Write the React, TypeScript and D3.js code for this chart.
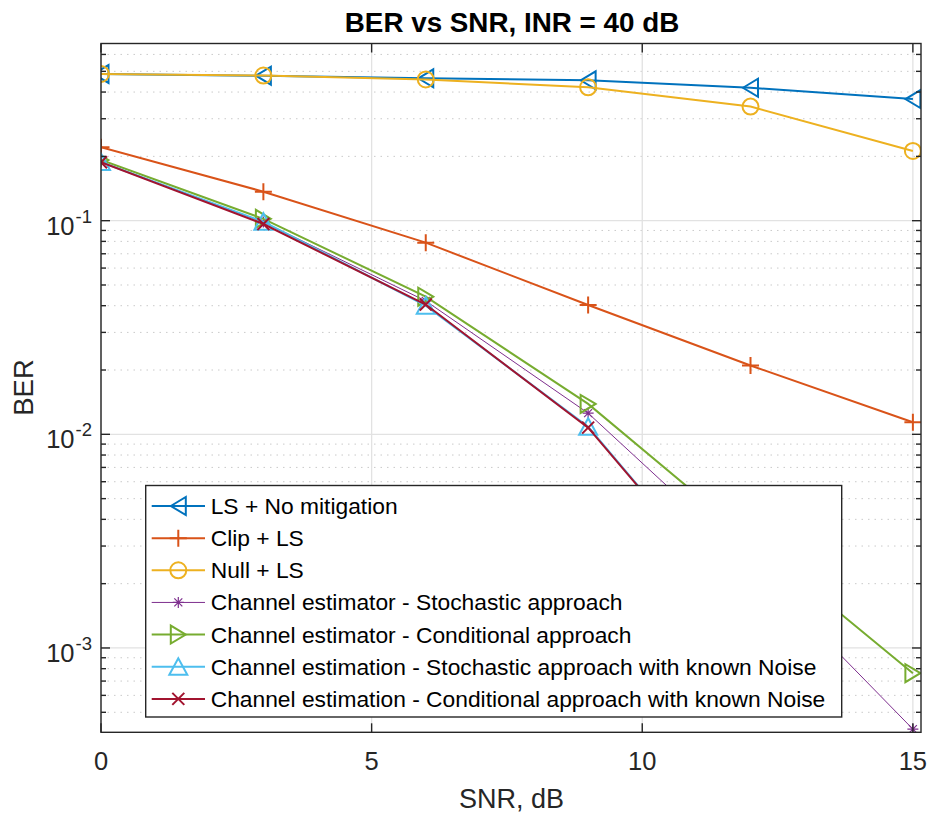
import React from "react";
import * as d3 from "d3";

// SNR sweep (dB)
const snrDb = [0, 3, 6, 9, 12, 15];

// BER for each receiver; null = no errors counted (not drawable on a log axis)
const lsNoMitigation = [0.486, 0.477, 0.464, 0.454, 0.419, 0.371];
const clipLs = [0.2206, 0.1367, 0.0789, 0.0403, 0.021, 0.01139];
const nullLs = [0.486, 0.478, 0.458, 0.421, 0.342, 0.212];
const estStochastic = [0.188, 0.0985, 0.0421, 0.01256, 0.0025, 0.000417];
const estConditional = [0.1923, 0.102, 0.0441, 0.01388, 0.00322, 0.000762];
const estStochasticKnown = [0.188, 0.0989, 0.04, 0.01086, 0.00137, null];
const estConditionalKnown = [0.1876, 0.0965, 0.0405, 0.01075, 0.00137, null];

const seriesNames = [
  "LS + No mitigation",
  "Clip + LS",
  "Null + LS",
  "Channel estimator - Stochastic approach",
  "Channel estimator - Conditional approach",
  "Channel estimation - Stochastic approach with known Noise",
  "Channel estimation - Conditional approach with known Noise",
];
const seriesValues = [
  lsNoMitigation,
  clipLs,
  nullLs,
  estStochastic,
  estConditional,
  estStochasticKnown,
  estConditionalKnown,
];
const seriesColors = ["#0072BD", "#D95319", "#EDB120", "#7E2F8E", "#77AC30", "#4DBEEE", "#A2142F"];
const seriesMarkers = ["<", "+", "o", "*", ">", "^", "x"];
const seriesWidths = [2, 2, 2, 1, 2, 2, 2];

const xTicks = [0, 5, 10, 15];
const yMajorTicks = [1e-3, 1e-2, 1e-1];
const yTickExponents = ["-3", "-2", "-1"];

const W = 927;
const H = 814;
const left = 101;
const right = 921;
const top = 43.5;
const bottom = 732.3;
const FONT = "'Liberation Sans', Arial, Helvetica, sans-serif";
const AXIS = "#262626";

const x = d3.scaleLinear().domain([0, 15.15]).range([left, right]);
const y = d3.scaleLog().domain([4.03e-4, 0.675]).range([bottom, top]);

function minorTicks(): number[] {
  const out: number[] = [];
  for (let e = -4; e <= 0; e++) {
    for (let m = 2; m <= 9; m++) {
      const v = m * Math.pow(10, e);
      if (v > y.domain()[0] && v < y.domain()[1]) out.push(v);
    }
  }
  return out;
}

function Marker({ type, cx, cy, color, sw }: { type: string; cx: number; cy: number; color: string; sw: number }) {
  const common = { fill: "none", stroke: color, strokeWidth: sw };
  switch (type) {
    case "<":
      return <polygon {...common} points={`${cx - 7.5},${cy} ${cx + 7.5},${cy - 9} ${cx + 7.5},${cy + 9}`} />;
    case ">":
      return <polygon {...common} points={`${cx + 7.5},${cy} ${cx - 7.5},${cy - 9} ${cx - 7.5},${cy + 9}`} />;
    case "^":
      return <polygon {...common} points={`${cx},${cy - 8.5} ${cx - 9},${cy + 8} ${cx + 9},${cy + 8}`} />;
    case "o":
      return <circle {...common} cx={cx} cy={cy} r={8} />;
    case "+":
      return (
        <path {...common} d={`M${cx - 8.5},${cy}H${cx + 8.5}M${cx},${cy - 8.5}V${cy + 8.5}`} />
      );
    case "x":
      return (
        <path
          {...common}
          d={`M${cx - 6},${cy - 6}L${cx + 6},${cy + 6}M${cx - 6},${cy + 6}L${cx + 6},${cy - 6}`}
        />
      );
    case "*":
      return (
        <path
          {...common}
          d={`M${cx - 5.5},${cy}H${cx + 5.5}M${cx},${cy - 5.5}V${cy + 5.5}M${cx - 4},${cy - 4}L${cx + 4},${cy + 4}M${cx - 4},${cy + 4}L${cx + 4},${cy - 4}`}
        />
      );
    default:
      return null;
  }
}

export default function App() {
  const line = d3
    .line<[number, number | null]>()
    .defined((d) => d[1] != null)
    .x((d) => x(d[0]))
    .y((d) => y(d[1] as number));

  const minors = minorTicks();
  const legendX = 145.7;
  const legendY = 485.5;
  const legendW = 696;
  const legendH = 231.5;
  const rowStep = 32.15;
  const firstRow = 506;

  return (
    <svg
      width={W}
      height={H}
      viewBox={`0 0 ${W} ${H}`}
      style={{ position: "absolute", left: 0, top: 0, background: "#fff" }}
      fontFamily={FONT}
    >
      <rect x={0} y={0} width={W} height={H} fill="#fff" />
      <defs>
        <clipPath id="plotArea">
          <rect x={left} y={top} width={right - left} height={bottom - top} />
        </clipPath>
      </defs>

      {/* minor grid */}
      {minors.map((v) => (
        <line
          key={"mg" + v}
          x1={left}
          x2={right}
          y1={y(v)}
          y2={y(v)}
          stroke="#cacaca"
          strokeWidth={1}
          strokeDasharray="1.5 5"
        />
      ))}
      {/* major grid */}
      {yMajorTicks.map((v) => (
        <line key={"gy" + v} x1={left} x2={right} y1={y(v)} y2={y(v)} stroke="#e2e2e2" strokeWidth={1.3} />
      ))}
      {xTicks.map((v) => (
        <line key={"gx" + v} x1={x(v)} x2={x(v)} y1={top} y2={bottom} stroke="#e2e2e2" strokeWidth={1.3} />
      ))}

      {/* series */}
      <g clipPath="url(#plotArea)">
        {seriesValues.map((vals, i) => {
          const pts: [number, number | null][] = snrDb.map((s, j) => [s, vals[j]]);
          return (
            <g key={"s" + i}>
              <path d={line(pts) || ""} fill="none" stroke={seriesColors[i]} strokeWidth={seriesWidths[i]} />
              {pts
                .filter((p) => p[1] != null)
                .map((p, j) => (
                  <Marker
                    key={j}
                    type={seriesMarkers[i]}
                    cx={x(p[0])}
                    cy={y(p[1] as number)}
                    color={seriesColors[i]}
                    sw={seriesWidths[i] === 1 ? 1.2 : 2}
                  />
                ))}
            </g>
          );
        })}
      </g>

      {/* axes box and ticks */}
      <rect x={left} y={top} width={right - left} height={bottom - top} fill="none" stroke={AXIS} strokeWidth={1.4} />
      {xTicks.map((v) => (
        <g key={"xt" + v}>
          <line x1={x(v)} x2={x(v)} y1={bottom} y2={bottom - 9} stroke={AXIS} strokeWidth={1.4} />
          <line x1={x(v)} x2={x(v)} y1={top} y2={top + 9} stroke={AXIS} strokeWidth={1.4} />
          <text x={x(v)} y={770} textAnchor="middle" fontSize={25.5} fill={AXIS}>
            {v}
          </text>
        </g>
      ))}
      {yMajorTicks.map((v, i) => (
        <g key={"yt" + v}>
          <line x1={left} x2={left + 9} y1={y(v)} y2={y(v)} stroke={AXIS} strokeWidth={1.4} />
          <line x1={right} x2={right - 9} y1={y(v)} y2={y(v)} stroke={AXIS} strokeWidth={1.4} />
          <text x={92} y={y(v) + 14} textAnchor="end" fontSize={25.5} fill={AXIS}>
            <tspan>10</tspan>
            <tspan fontSize={18.5} dx={1} dy={-12}>
              {yTickExponents[i]}
            </tspan>
          </text>
        </g>
      ))}
      {minors.map((v) => (
        <g key={"ym" + v}>
          <line x1={left} x2={left + 5} y1={y(v)} y2={y(v)} stroke={AXIS} strokeWidth={1.4} />
          <line x1={right} x2={right - 5} y1={y(v)} y2={y(v)} stroke={AXIS} strokeWidth={1.4} />
        </g>
      ))}

      {/* labels */}
      <text x={512} y={32} textAnchor="middle" fontSize={27.8} fontWeight="bold" fill="#000">
        BER vs SNR, INR = 40 dB
      </text>
      <text x={511.5} y={808} textAnchor="middle" fontSize={27} fill={AXIS}>
        SNR, dB
      </text>
      <text
        transform={`translate(33.3, 387.5) rotate(-90)`}
        textAnchor="middle"
        fontSize={27.5}
        fill={AXIS}
      >
        BER
      </text>

      {/* legend */}
      <rect x={legendX} y={legendY} width={legendW} height={legendH} fill="#fff" stroke={AXIS} strokeWidth={1.4} />
      {seriesNames.map((name, i) => {
        const cy = firstRow + i * rowStep;
        return (
          <g key={"lg" + i}>
            <line x1={151.7} x2={205} y1={cy} y2={cy} stroke={seriesColors[i]} strokeWidth={seriesWidths[i]} />
            <Marker
              type={seriesMarkers[i]}
              cx={178.3}
              cy={cy}
              color={seriesColors[i]}
              sw={seriesWidths[i] === 1 ? 1.2 : 2}
            />
            <text x={210.7} y={cy + 8} fontSize={22.8} fill="#000">
              {name}
            </text>
          </g>
        );
      })}
    </svg>
  );
}
